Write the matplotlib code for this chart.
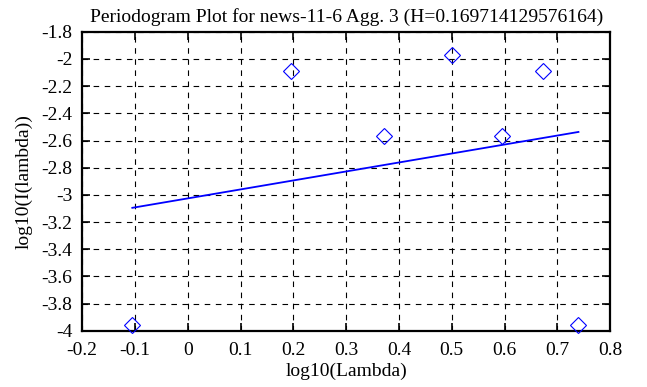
import matplotlib
matplotlib.use('Agg')
import matplotlib.pyplot as plt
import numpy as np

plt.rcParams['font.family'] = ['Liberation Serif', 'DejaVu Serif']

log_lambda = [-0.105, 0.195, 0.372, 0.5, 0.595, 0.672, 0.74]
log_i = [-3.96, -2.09, -2.57, -1.97, -2.57, -2.09, -3.96]
fit_x = [-0.105, 0.74]
fit_y = [-3.095, -2.537]

fig = plt.figure(figsize=(6.47, 3.87), dpi=100)
ax = fig.add_axes([0.127, 0.145, 0.816, 0.773])

ax.plot(log_lambda, log_i, 'D', markersize=8, markerfacecolor='none',
        markeredgecolor='blue', markeredgewidth=0.8, clip_on=False, zorder=3)
ax.plot(fit_x, fit_y, color='blue', linewidth=1.3)

ax.set_xlim(-0.2, 0.8)
ax.set_ylim(-4, -1.8)
ax.set_xticks(np.arange(-0.2, 0.81, 0.1))
ax.set_yticks(np.arange(-4, -1.79, 0.2))
ax.set_xticklabels(['-0.2', '-0.1', '0', '0.1', '0.2', '0.3', '0.4', '0.5', '0.6', '0.7', '0.8'])
ax.set_yticklabels(['-4', '-3.8', '-3.6', '-3.4', '-3.2', '-3', '-2.8', '-2.6', '-2.4', '-2.2', '-2', '-1.8'])
ax.grid(True, color='black', linestyle=(0, (5, 5)), linewidth=0.8)
ax.tick_params(direction='in', top=True, right=True, length=6, width=1.2, labelsize=14)
ax.tick_params(axis='x', pad=8)
ax.tick_params(axis='y', pad=7)
for s in ax.spines.values():
    s.set_linewidth(1.6)

ax.set_title('Periodogram Plot for news-11-6 Agg. 3 (H=0.169714129576164)', fontsize=14, pad=7)
ax.set_xlabel('log10(Lambda)', fontsize=14, labelpad=3)
ax.set_ylabel('log10(I(lambda))', fontsize=14, labelpad=6)

fig.savefig('out.png', dpi=100)
